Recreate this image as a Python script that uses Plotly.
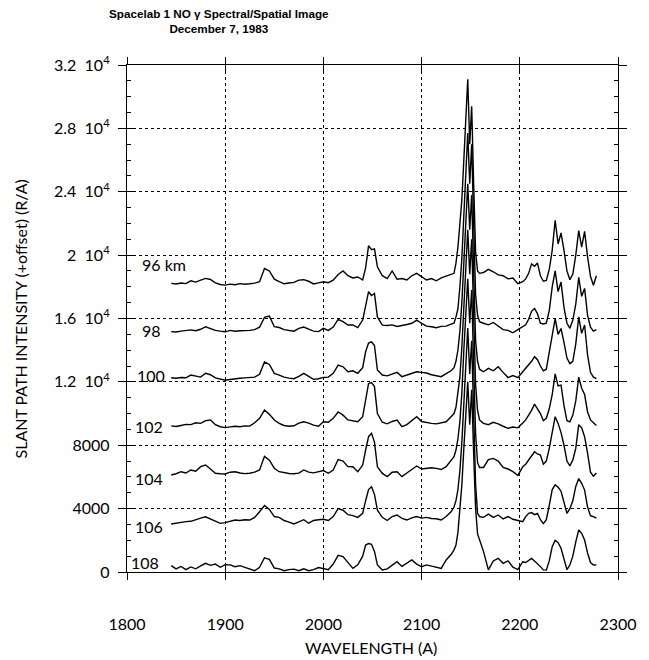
import plotly.graph_objects as go

# ---------------- data ----------------
wavelength = [1845, 1850, 1855, 1860, 1865, 1870, 1875, 1880, 1885, 1890,
              1895, 1900, 1905, 1910, 1915, 1920, 1925, 1930, 1935, 1940,
              1945, 1950, 1955, 1960, 1965, 1970, 1975, 1980, 1985, 1990,
              1995, 2000, 2005, 2010, 2015, 2020, 2025, 2030, 2035, 2040,
              2043, 2046, 2049, 2052, 2055,
              2060, 2065, 2070, 2075, 2080, 2085, 2090, 2095, 2100, 2105,
              2110, 2115, 2120, 2125, 2130,
              2133, 2135, 2137, 2139, 2141, 2143, 2145, 2147, 2149, 2151,
              2153, 2155, 2157, 2159,
              2163, 2168, 2173, 2178, 2183, 2188, 2193, 2198, 2203,
              2206, 2209, 2212, 2215, 2218, 2221, 2224, 2227, 2230, 2233,
              2236, 2239, 2242, 2245, 2248, 2251, 2254, 2257, 2260, 2263,
              2266, 2269, 2272, 2275, 2278]

altitude_labels = ["96 km", "98", "100", "102", "104", "106", "108"]
offsets = [18000, 15000, 12000, 9000, 6000, 3000, 0]

spec_96 = [220, 180, 240, 200, 380, 300, 420, 530, 460, 250,
           150, 110, 170, 130, 200, 160, 190, 230, 320, 1150,
           1000, 480, 330, 190, 240, 280, 420, 450, 350, 180,
           250, 320, 260, 420, 780, 1000, 700, 560, 620, 430,
           1200, 2600, 2350, 2400, 1265,
           700, 520, 1000, 480, 520, 430, 700, 850, 640, 430,
           520, 380, 560, 680, 760,
           850, 1500, 2500, 4000, 5500, 8000, 10500, 13100, 9000, 11400,
           6500, 2200, 1000, 850,
           900, 1100, 950, 750, 700, 500, 550, 200, 320,
           500, 850, 1450, 1300, 1500, 700, 350, 400, 1100, 2300,
           4200, 2700, 3400, 2300, 1000, 450, 800, 2000, 3550, 2500,
           3500, 1900, 650, 100, 700]

spec_98 = [170, 150, 200, 260, 280, 230, 320, 480, 380, 250,
           200, 160, 250, 200, 230, 220, 250, 300, 450, 1070,
           1150, 480, 430, 300, 230, 200, 380, 460, 330, 200,
           170, 380, 250, 460, 950, 800, 590, 600, 430, 900,
           1800, 2690, 2450, 2580, 1100,
           580, 560, 600, 500, 550, 620, 700, 900, 690, 520,
           480, 420, 500, 520, 640,
           700, 1100, 1600, 3000, 4800, 7500, 10000, 12700, 9500, 12000,
           7000, 2500, 1200, 800,
           700, 600, 750, 550, 300, 250, 100, 300, 480,
           600, 950, 1450, 1640, 1300, 700, 650, 700, 1500, 3000,
           4000, 2700, 3300, 1700, 700, 380, 900, 1900, 3600, 2400,
           2900, 1200, 450, 200, 300]

spec_100 = [260, 230, 280, 260, 430, 350, 300, 540, 450, 250,
            180, 100, 150, 200, 230, 250, 260, 300, 480, 1250,
            1100, 540, 430, 300, 240, 200, 350, 540, 350, 160,
            200, 280, 300, 540, 1060, 950, 640, 700, 540, 900,
            1900, 2450, 2520, 2300, 750,
            430, 380, 500, 600, 330, 420, 500, 640, 600, 560,
            450, 380, 330, 520, 700,
            900, 1300, 2000, 3200, 5000, 7800, 10200, 12500, 9600, 11800,
            7000, 2600, 1300, 800,
            640, 850, 700, 950, 600, 270, 400, 270, 640,
            850, 1100, 1300, 1590, 1400, 1000, 700, 800, 1900, 3000,
            4000, 3000, 3370, 2500, 1500, 1150, 1300, 2400, 4100, 3060,
            3590, 1700, 600, 300, 200]

spec_102 = [220, 180, 250, 320, 300, 420, 380, 550, 600, 300,
            170, 110, 160, 200, 170, 220, 210, 420, 700, 1220,
            950, 590, 380, 250, 200, 230, 400, 480, 400, 270,
            200, 480, 450, 700, 1100, 900, 600, 560, 480, 800,
            1800, 2900, 2950, 2700, 1000,
            450, 350, 500, 590, 170, 300, 550, 800, 500, 420,
            380, 350, 420, 480, 800,
            1000, 1400, 2200, 3300, 5200, 8000, 10500, 12600, 9800, 12000,
            7200, 2800, 1200, 600,
            380, 300, 450, 350, 200, 70, 150, 100, 400,
            600, 900, 1200, 1600, 1300, 1000, 550, 700, 1300, 2200,
            3500, 2750, 2800, 1500, 550, 480, 900, 1800, 3300, 2600,
            2200, 1100, 600, 420, 250]

spec_104 = [120, 200, 330, 250, 440, 360, 650, 750, 500, 230,
            200, 190, 300, 330, 250, 210, 230, 300, 440, 1300,
            1060, 550, 330, 260, 220, 200, 240, 440, 300, 260,
            350, 400, 230, 440, 1100, 1000, 650, 640, 330, 750,
            1700, 2540, 2750, 2200, 640,
            220, 20, 300, 330, 20, 250, 450, 690, 500, 550,
            580, 540, 470, 650, 1000,
            1280, 1700, 2400, 3500, 5300, 8000, 10300, 12500, 9700, 11800,
            7100, 2700, 900, 600,
            600, 1100, 1170, 1000, 600, 500, 330, 100, 640,
            800, 1070, 1300, 1590, 1450, 1380, 800, 1000, 1800, 2700,
            3800, 3380, 2800, 2000, 1000, 700, 1070, 1800, 3300, 3100,
            2540, 1500, 300, 50, 250]

spec_106 = [30, 80, 150, 180, 200, 320, 400, 480, 350, 180,
            70, 120, 200, 280, 250, 300, 280, 450, 800, 1200,
            950, 500, 450, 250, 150, 30, 170, 300, 80, 250,
            300, 330, 250, 500, 1000, 900, 620, 560, 450, 700,
            1500, 2200, 2380, 1900, 900,
            450, 250, 500, 600, 390, 280, 420, 500, 400, 450,
            380, 360, 280, 500, 800,
            1100, 1500, 2200, 3400, 5200, 7800, 10000, 12400, 9500, 11600,
            7000, 2500, 700, 500,
            450, 650, 450, 600, 350, 500, 330, 250, 180,
            500, 700, 750, 620, 700, 300, 50, 300, 1200, 2200,
            2500, 2350, 2100, 1300, 700, 1000, 1500, 2400, 2900, 2600,
            2170, 1100, 550, 490, 400]

spec_108 = [400, 200, 350, 150, 320, 200, 380, 550, 420, 500,
            300, 460, 450, 330, 400, 300, 150, 80, 300, 900,
            800, 250, 200, 80, 150, 180, 80, 200, 80, 150,
            280, 200, 150, 500, 1050, 970, 600, 230, 450, 1000,
            1700, 1800, 1750, 1300, 450,
            130, 200, 440, 650, 350, 550, 760, 500, 330, 450,
            380, 330, 230, 760, 1100,
            1400, 1700, 2500, 3800, 5500, 7800, 9800, 12000, 9300, 11500,
            7500, 4000, 2400, 2000,
            1300, 130, 700, 860, 550, 700, 300, 150, 650,
            600, 750, 860, 700, 550, 340, 130, 120, 700, 1600,
            2000, 1850, 1500, 900, 150, 440, 1000, 1900, 2650, 2440,
            2020, 1200, 600, 440, 450]

spectra = [spec_96, spec_98, spec_100, spec_102, spec_104, spec_106, spec_108]

y_tick_vals = [0, 4000, 8000, 12000, 16000, 20000, 24000, 28000, 32000]
y_tick_text = ["0", "4000", "8000",
               "1.2\u00a0\u00a010<sup>4</sup>", "1.6\u00a0\u00a010<sup>4</sup>",
               "2\u00a0\u00a010<sup>4</sup>", "2.4\u00a0\u00a010<sup>4</sup>",
               "2.8\u00a0\u00a010<sup>4</sup>", "3.2\u00a0\u00a010<sup>4</sup>"]
x_tick_vals = [1800, 1900, 2000, 2100, 2200, 2300]

# ---------------- figure ----------------
FONT = "Lato, 'Open Sans', Arial, sans-serif"
fig = go.Figure()

for vals, off in zip(spectra, offsets):
    fig.add_trace(go.Scatter(
        x=wavelength, y=[v + off for v in vals], mode="lines",
        line=dict(color="black", width=1.4), showlegend=False,
        hoverinfo="skip"))

# dummy trace for overlay axes (inside ticks)
fig.add_trace(go.Scatter(x=[1800], y=[-1000], xaxis="x2", yaxis="y2",
                         mode="markers", marker=dict(opacity=0),
                         showlegend=False, hoverinfo="skip"))

# altitude labels
label_x = [1813, 1813, 1808, 1806, 1806, 1806, 1802]
label_dy = [1400, 270, 430, 170, -70, -140, 570]
for txt, off, lx, dy in zip(altitude_labels, offsets, label_x, label_dy):
    fig.add_annotation(x=lx, y=off + dy, text=txt, showarrow=False,
                       xanchor="left", yanchor="middle",
                       font=dict(family=FONT, size=16, color="black"))

axis_common = dict(showline=True, linecolor="black", linewidth=1.3,
                   color="black", zeroline=False)

fig.update_layout(
    width=649, height=660,
    margin=dict(l=127, r=22, t=65, b=88),
    paper_bgcolor="white", plot_bgcolor="white",
    font=dict(family=FONT, size=16, color="black"),
    xaxis=dict(range=[1800, 2300], tickvals=x_tick_vals,
               ticks="outside", ticklen=7, tickwidth=1.2, tickcolor="black",
               mirror="allticks", showgrid=True, gridcolor="black",
               griddash="dot", gridwidth=1, ticklabelstandoff=31,
               tickfont=dict(family=FONT, size=16), **axis_common),
    yaxis=dict(range=[0, 32000], tickvals=y_tick_vals, ticktext=y_tick_text,
               ticks="outside", ticklen=8, tickwidth=1.2, tickcolor="black",
               mirror="allticks", showgrid=True, gridcolor="black",
               griddash="dot", gridwidth=1, ticklabelstandoff=5,
               tickfont=dict(family=FONT, size=16), **axis_common),
    xaxis2=dict(range=[1800, 2300], tickvals=x_tick_vals, overlaying="x",
                anchor="y2", ticks="inside", ticklen=7, tickwidth=1.2,
                tickcolor="black", mirror="allticks", showgrid=False,
                showticklabels=False, **axis_common),
    yaxis2=dict(range=[0, 32000], tickvals=y_tick_vals, overlaying="y",
                anchor="x2", ticks="inside", ticklen=8, tickwidth=1.2,
                tickcolor="black", mirror="allticks", showgrid=False,
                showticklabels=False,
                minor=dict(ticks="inside", ticklen=4, dtick=1000,
                           tickcolor="black", tickwidth=1),
                **axis_common),
)

# title
fig.add_annotation(x=0.188, y=1.118, xref="paper", yref="paper",
                   text="<b>Spacelab 1 NO \u03b3 Spectral/Spatial Image<br>December 7, 1983</b>",
                   showarrow=False, xanchor="center", yanchor="top",
                   align="center",
                   font=dict(family="Liberation Sans, Arial, sans-serif",
                             size=11.7, color="black"))

# axis titles
fig.add_annotation(x=0.497, y=-0.148, xref="paper", yref="paper",
                   text="WAVELENGTH (A)", showarrow=False,
                   xanchor="center", yanchor="middle",
                   font=dict(family=FONT, size=16, color="black"))
fig.add_annotation(x=-0.216, y=0.5, xref="paper", yref="paper",
                   text="SLANT PATH INTENSITY (+offset) (R/A)", showarrow=False,
                   textangle=-90, xanchor="center", yanchor="middle",
                   font=dict(family=FONT, size=16, color="black"))

fig.write_html("out.html")
